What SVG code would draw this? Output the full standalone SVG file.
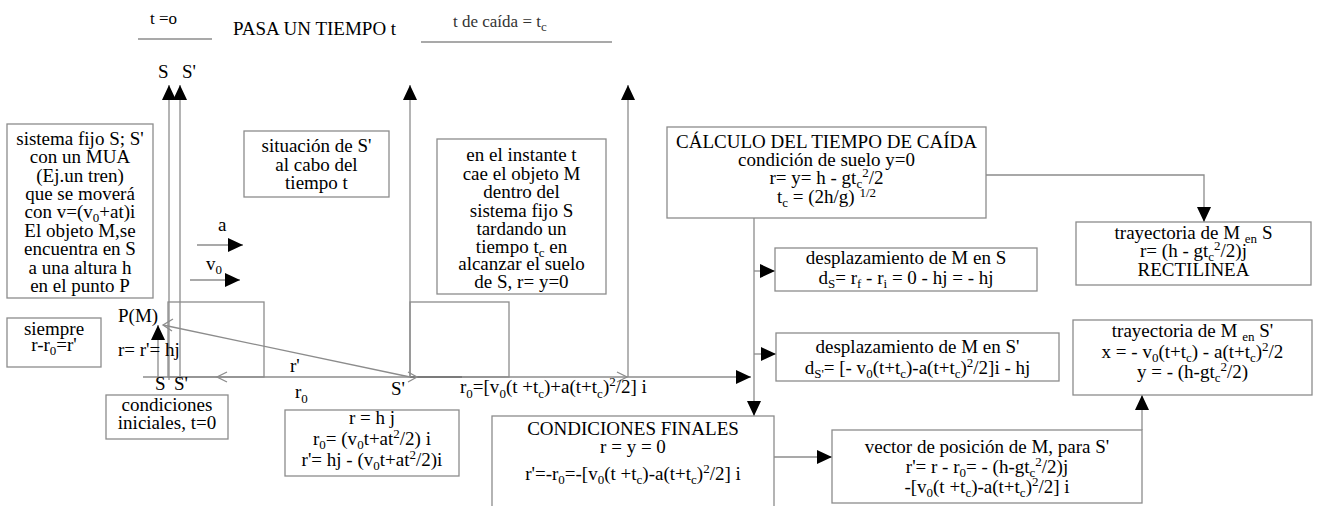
<svg xmlns="http://www.w3.org/2000/svg" width="1319" height="506" viewBox="0 0 1319 506">
<style>
.box{fill:#fff;stroke:#8c8c8c;stroke-width:1.3}
.fr{fill:none;stroke:#8c8c8c;stroke-width:1.3}
.ln{fill:none;stroke:#8c8c8c;stroke-width:1.3}
text{font-family:'Liberation Serif','DejaVu Serif','Times New Roman',serif;font-size:19px;fill:#000}
.c{text-anchor:middle}
.sb{font-size:13px}
</style>
<defs>
<marker id="ah" markerUnits="userSpaceOnUse" markerWidth="16" markerHeight="14" refX="15" refY="7" orient="auto" viewBox="0 0 16 14"><path d="M0,0 L15,7 L0,14 z" fill="#000"/></marker>
</defs>
<rect width="1319" height="506" fill="#fff"/>

<g id="connectors">
<line class="ln" x1="138" y1="39" x2="212" y2="39"/>
<line class="ln" x1="421" y1="42" x2="612" y2="42"/>
<line class="ln" x1="169" y1="380" x2="169" y2="85" marker-end="url(#ah)"/>
<line class="ln" x1="180" y1="380" x2="180" y2="85" marker-end="url(#ah)"/>
<line class="ln" x1="410" y1="377" x2="410" y2="85" marker-end="url(#ah)"/>
<line class="ln" x1="628" y1="377" x2="628" y2="85" marker-end="url(#ah)"/>
<line class="ln" x1="143" y1="377" x2="751" y2="377" marker-end="url(#ah)"/>
<line x1="410" y1="377" x2="462" y2="377" stroke="#444" stroke-width="1.6"/>
<line class="ln" x1="197" y1="245" x2="243" y2="245" marker-end="url(#ah)"/>
<line class="ln" x1="190" y1="280" x2="240" y2="280" marker-end="url(#ah)"/>
<line class="ln" x1="158" y1="380" x2="158" y2="325" marker-end="url(#ah)"/>
<line class="ln" x1="410" y1="377" x2="163" y2="325"/>
<polyline class="ln" points="173,319 163,325 172,331"/>
<polyline class="ln" points="227,372 217,377 227,382"/>
<polyline class="ln" points="408,372 417,377 408,382"/>
<polyline class="ln" points="617,372 627,377 617,382"/>
<polyline class="ln" points="986,175 1204,175 1204,222" marker-end="url(#ah)"/>
<line class="ln" x1="754" y1="218" x2="754" y2="416" marker-end="url(#ah)"/>
<line class="ln" x1="754" y1="271" x2="775" y2="271" marker-end="url(#ah)"/>
<line class="ln" x1="754" y1="354" x2="776" y2="354" marker-end="url(#ah)"/>
<line class="ln" x1="774" y1="457" x2="832" y2="457" marker-end="url(#ah)"/>
<line class="ln" x1="1142" y1="430" x2="1142" y2="395" marker-end="url(#ah)"/>
</g>

<g id="frames">
<rect class="fr" x="168" y="302" width="96" height="75"/>
<rect class="fr" x="410" y="302" width="99" height="75"/>
</g>

<g id="labels">
<text x="150" y="24" style="font-size:17px">t =o</text>
<text x="233" y="35">PASA UN TIEMPO t</text>
<text x="453" y="27" style="font-size:17px;fill:#333">t de caída = t<tspan class="sb" dy="4">c</tspan></text>
<text x="158" y="78">S</text>
<text x="182" y="78">S'</text>
<text x="218" y="231">a</text>
<text x="206" y="270">v<tspan class="sb" dy="4">0</tspan></text>
<text x="118" y="322">P(M)</text>
<text x="118" y="356">r= r'= hj</text>
<text x="155" y="390">S</text>
<text x="174" y="390">S'</text>
<text x="290" y="372">r'</text>
<text x="295" y="398">r<tspan class="sb" dy="5">0</tspan></text>
<text x="391" y="395">S'</text>
<text x="460" y="393">r<tspan class="sb" dy="5">0</tspan><tspan dy="-5">=[v</tspan><tspan class="sb" dy="5">0</tspan><tspan dy="-5">(t +t</tspan><tspan class="sb" dy="5">c</tspan><tspan dy="-5">)+a(t+t</tspan><tspan class="sb" dy="5">c</tspan><tspan dy="-5">)</tspan><tspan class="sb" dy="-7">2</tspan><tspan dy="7">/2] i</tspan></text>
</g>

<g id="n-sistema">
<rect class="box" x="7" y="124" width="146" height="174"/>
<text class="c" x="80" y="145">sistema fijo S; S'</text>
<text class="c" x="80" y="163">con un MUA</text>
<text class="c" x="80" y="182">(Ej.un tren)</text>
<text class="c" x="80" y="200">que se moverá</text>
<text class="c" x="80" y="218">con v=(v<tspan class="sb" dy="4">0</tspan><tspan dy="-4">+at)i</tspan></text>
<text class="c" x="80" y="237">El objeto M,se</text>
<text class="c" x="80" y="255">encuentra en S</text>
<text class="c" x="80" y="274">a una altura h</text>
<text class="c" x="80" y="292">en el punto P</text>
</g>

<g id="n-situacion">
<rect class="box" x="244" y="131" width="145" height="66"/>
<text class="c" x="316.5" y="152">situación de S'</text>
<text class="c" x="316.5" y="171">al cabo del</text>
<text class="c" x="316.5" y="189">tiempo  t</text>
</g>

<g id="n-instante">
<rect class="box" x="437" y="139" width="169" height="155"/>
<text class="c" x="521.5" y="161">en el instante t</text>
<text class="c" x="521.5" y="180">cae el objeto M</text>
<text class="c" x="521.5" y="198">dentro del</text>
<text class="c" x="521.5" y="217">sistema  fijo S</text>
<text class="c" x="521.5" y="235">tardando un</text>
<text class="c" x="521.5" y="253">tiempo t<tspan class="sb" dy="4">c</tspan><tspan dy="-4"> en</tspan></text>
<text class="c" x="521.5" y="270">alcanzar el suelo</text>
<text class="c" x="521.5" y="288">de S, r= y=0</text>
</g>

<g id="n-calculo">
<rect class="box" x="667" y="127" width="319" height="91"/>
<text class="c" x="826.5" y="148">CÁLCULO DEL TIEMPO DE CAÍDA</text>
<text class="c" x="826.5" y="166">condición de suelo  y=0</text>
<text class="c" x="826.5" y="184">r= y= h - gt<tspan class="sb" dy="4">c</tspan><tspan class="sb" dy="-11">2</tspan><tspan dy="7">/2</tspan></text>
<text class="c" x="826.5" y="203">t<tspan class="sb" dy="4">c</tspan><tspan dy="-4"> = (2h/g) </tspan><tspan class="sb" dy="-6">1/2</tspan></text>
</g>

<g id="n-tray-s">
<rect class="box" x="1076" y="222" width="235" height="63"/>
<text class="c" x="1193.5" y="239">trayectoria de M <tspan class="sb" dy="4">en</tspan><tspan dy="-4"> S</tspan></text>
<text class="c" x="1193.5" y="257">r= (h - gt<tspan class="sb" dy="4">c</tspan><tspan class="sb" dy="-11">2</tspan><tspan dy="7">/2)j</tspan></text>
<text class="c" x="1193.5" y="276">RECTILINEA</text>
</g>

<g id="n-desp-s">
<rect class="box" x="775" y="248" width="262" height="43"/>
<text class="c" x="906" y="264">desplazamiento de M en S</text>
<text class="c" x="906" y="284">d<tspan class="sb" dy="4">S</tspan><tspan dy="-4">= r</tspan><tspan class="sb" dy="4">f</tspan><tspan dy="-4"> - r</tspan><tspan class="sb" dy="4">i</tspan><tspan dy="-4"> = 0 - hj = - hj</tspan></text>
</g>

<g id="n-desp-s2">
<rect class="box" x="776" y="333" width="283" height="48"/>
<text class="c" x="917.5" y="353">desplazamiento de M en S'</text>
<text class="c" x="917.5" y="374">d<tspan class="sb" dy="4">S'</tspan><tspan dy="-4">= [- v</tspan><tspan class="sb" dy="4">0</tspan><tspan dy="-4">(t+t</tspan><tspan class="sb" dy="4">c</tspan><tspan dy="-4">)-a(t+t</tspan><tspan class="sb" dy="4">c</tspan><tspan dy="-4">)</tspan><tspan class="sb" dy="-7">2</tspan><tspan dy="7">/2]i - hj</tspan></text>
</g>

<g id="n-tray-s2">
<rect class="box" x="1073" y="320" width="239" height="75"/>
<text class="c" x="1192.5" y="337">trayectoria de M <tspan class="sb" dy="4">en</tspan><tspan dy="-4"> S'</tspan></text>
<text class="c" x="1192.5" y="358">x = - v<tspan class="sb" dy="4">0</tspan><tspan dy="-4">(t+t</tspan><tspan class="sb" dy="4">c</tspan><tspan dy="-4">) - a(t+t</tspan><tspan class="sb" dy="4">c</tspan><tspan dy="-4">)</tspan><tspan class="sb" dy="-7">2</tspan><tspan dy="7">/2</tspan></text>
<text class="c" x="1192.5" y="378">y = - (h-gt<tspan class="sb" dy="4">c</tspan><tspan class="sb" dy="-11">2</tspan><tspan dy="7">/2)</tspan></text>
</g>

<g id="n-siempre">
<rect class="box" x="7" y="318" width="94" height="49"/>
<text class="c" x="54" y="335">siempre</text>
<text class="c" x="54" y="351">r-r<tspan class="sb" dy="4">0</tspan><tspan dy="-4">=r'</tspan></text>
</g>

<g id="n-iniciales">
<rect class="box" x="106" y="395" width="122" height="44"/>
<text class="c" x="167" y="411">condiciones</text>
<text class="c" x="167" y="429">iniciales, t=0</text>
</g>

<g id="n-rhj">
<rect class="box" x="285" y="410" width="174" height="66"/>
<text class="c" x="372" y="424">r = h j</text>
<text class="c" x="372" y="445">r<tspan class="sb" dy="4">0</tspan><tspan dy="-4">= (v</tspan><tspan class="sb" dy="4">0</tspan><tspan dy="-4">t+at</tspan><tspan class="sb" dy="-7">2</tspan><tspan dy="7">/2) i</tspan></text>
<text class="c" x="372" y="466">r'= hj - (v<tspan class="sb" dy="4">0</tspan><tspan dy="-4">t+at</tspan><tspan class="sb" dy="-7">2</tspan><tspan dy="7">/2)i</tspan></text>
</g>

<g id="n-finales">
<rect class="box" x="492" y="416" width="282" height="95"/>
<text class="c" x="633" y="435">CONDICIONES FINALES</text>
<text class="c" x="633" y="453">r = y = 0</text>
<text class="c" x="633" y="480">r'=-r<tspan class="sb" dy="4">0</tspan><tspan dy="-4">=-[v</tspan><tspan class="sb" dy="4">0</tspan><tspan dy="-4">(t +t</tspan><tspan class="sb" dy="4">c</tspan><tspan dy="-4">)-a(t+t</tspan><tspan class="sb" dy="4">c</tspan><tspan dy="-4">)</tspan><tspan class="sb" dy="-7">2</tspan><tspan dy="7">/2] i</tspan></text>
</g>

<g id="n-vector">
<rect class="box" x="832" y="430" width="310" height="73"/>
<text class="c" x="987" y="453">vector de posición de M, para S'</text>
<text class="c" x="987" y="473">r'= r - r<tspan class="sb" dy="4">0</tspan><tspan dy="-4">= - (h-gt</tspan><tspan class="sb" dy="4">c</tspan><tspan class="sb" dy="-11">2</tspan><tspan dy="7">/2)j</tspan></text>
<text class="c" x="987" y="493">-[v<tspan class="sb" dy="4">0</tspan><tspan dy="-4">(t +t</tspan><tspan class="sb" dy="4">c</tspan><tspan dy="-4">)-a(t+t</tspan><tspan class="sb" dy="4">c</tspan><tspan dy="-4">)</tspan><tspan class="sb" dy="-7">2</tspan><tspan dy="7">/2] i</tspan></text>
</g>
</svg>
